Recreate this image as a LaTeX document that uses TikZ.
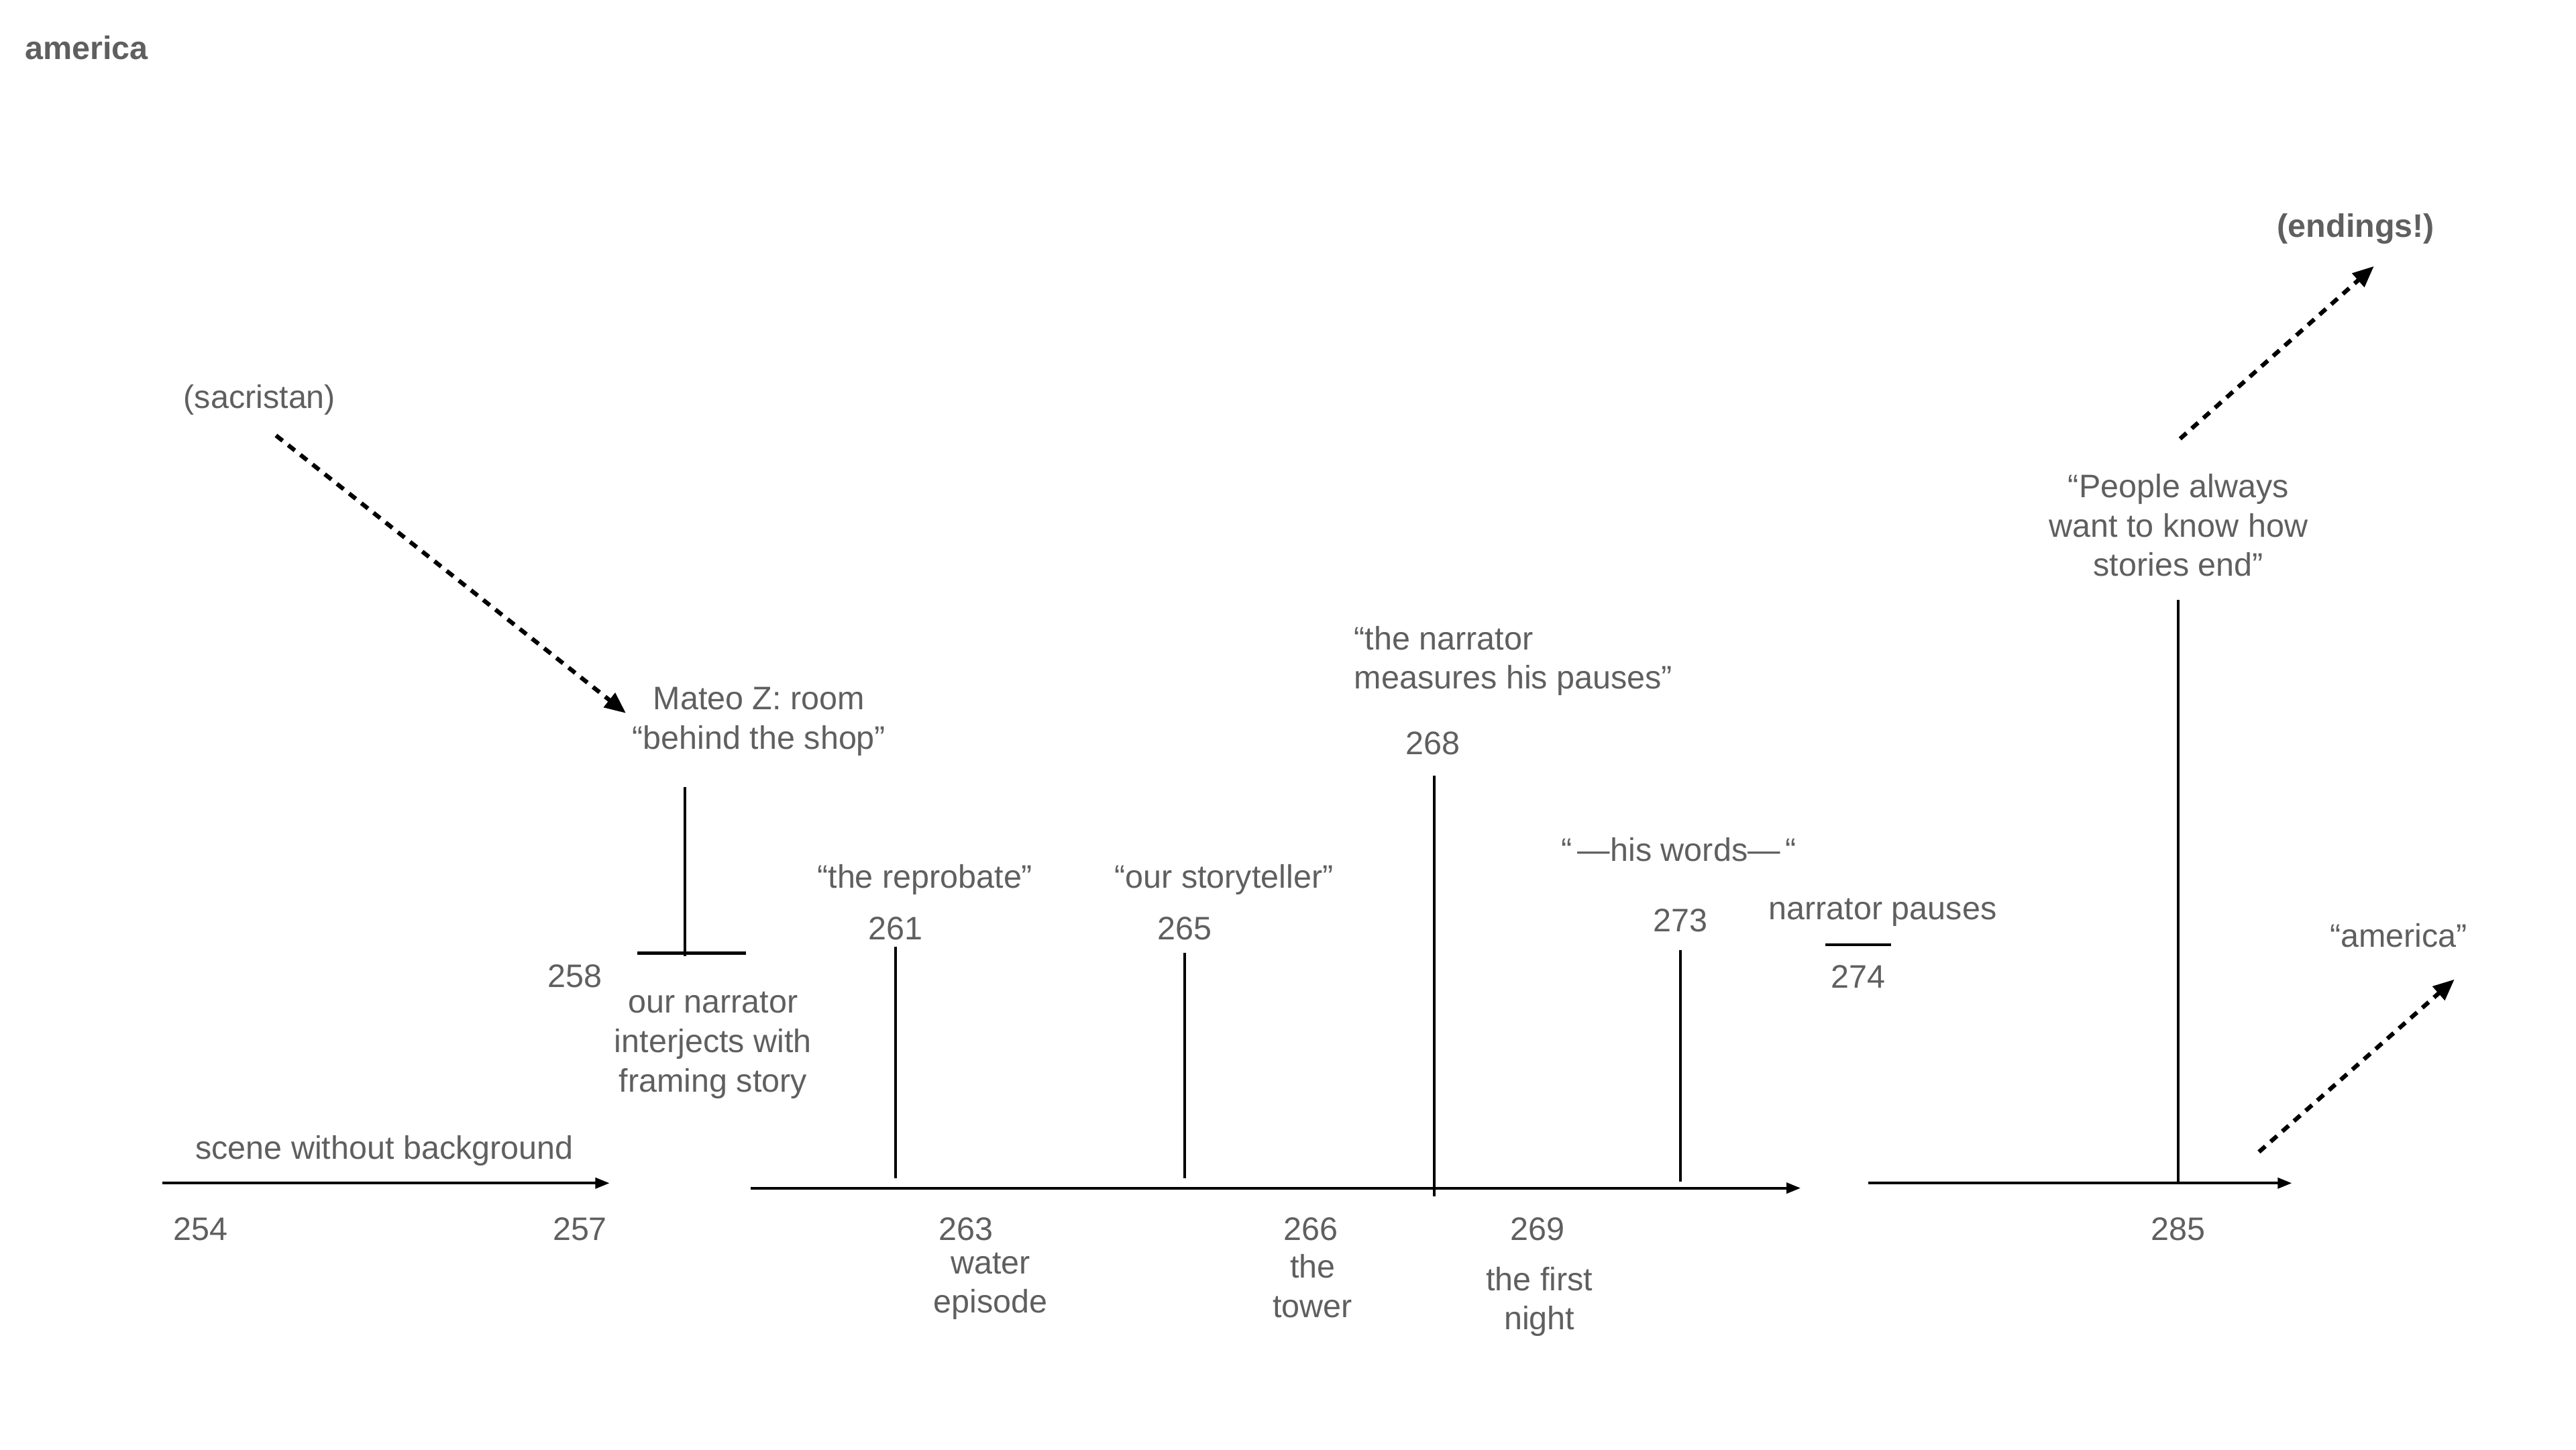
\documentclass[tikz,border=0pt]{standalone}
\usepackage{fontspec}
\setmainfont{Liberation Sans}
\usetikzlibrary{arrows.meta}
\definecolor{labelgray}{HTML}{5F5F5F}
\tikzset{
  lbl/.style={inner sep=0pt, text=labelgray, font=\fontsize{13.8}{16.7}\selectfont, align=center, yshift=-1.5pt},
  ttl/.style={lbl, font=\fontsize{13.8}{16.7}\selectfont\bfseries},
  axis/.style={line width=1.1pt, -{Triangle[length=6pt,width=4.5pt]}},
  tick/.style={line width=1.1pt},
  hint/.style={line width=1.8pt, dash pattern=on 3.6pt off 3pt, -{Triangle[length=9pt,width=7.5pt]}},
}
\begin{document}
\begin{tikzpicture}[x=0.02449cm, y=-0.02449cm]
\useasboundingbox (0,0) rectangle (1568,882);

% heading
\node[ttl, anchor=west] (title) at (15,27) {america};

% opening scene
\node[lbl] (sacristan) at (158,241) {(sacristan)};
\coordinate (sacfrom) at (168,265);
\coordinate (sacto) at (381,434);
\draw[hint] (sacfrom) -- (sacto);

\node[lbl] (scene) at (234,698) {scene without background};
\coordinate (s0) at (99,720);
\coordinate (s1) at (371,720);
\draw[axis] (s0) -- (s1);
\node[lbl] (p254) at (122,746) {254};
\node[lbl] (p257) at (353,746) {257};

% framing interjection
\node[lbl] (mateo) at (462,437) {Mateo Z: room\\“behind the shop”};
\coordinate (f0) at (417,479);
\coordinate (f1) at (417,582);
\coordinate (fl) at (388,580);
\coordinate (fr) at (454,580);
\draw[tick] (f0) -- (f1);
\draw[line width=1.4pt] (fl) -- (fr);
\node[lbl] (p258) at (350,592) {258};
\node[lbl] (frame) at (434,634) {our narrator\\interjects with\\framing story};

% main story line
\coordinate (m0) at (457,723);
\coordinate (m1) at (1096,723);
\draw[axis] (m0) -- (m1);

\node[lbl] (reprobate) at (563,533) {“the reprobate”};
\node[lbl] (p261) at (545,563) {261};
\coordinate (a0) at (545,576);
\coordinate (a1) at (545,717);
\draw[tick] (a0) -- (a1);

\node[lbl] (storyteller) at (745,533) {“our storyteller”};
\node[lbl] (p265) at (721,563) {265};
\coordinate (b0) at (721,580);
\coordinate (b1) at (721,717);
\draw[tick] (b0) -- (b1);

\node[lbl, anchor=west, align=left] (measures) at (824,400) {“the narrator\\measures his pauses”};
\node[lbl] (p268) at (872,450) {268};
\coordinate (c0) at (873,472);
\coordinate (c1) at (873,728);
\draw[tick] (c0) -- (c1);

\node[lbl] (words) at (1022,515) {“\,—his words—\,“};
\node[lbl] (p273) at (1023,558) {273};
\coordinate (d0) at (1023,578);
\coordinate (d1) at (1023,719);
\draw[tick] (d0) -- (d1);

\node[lbl] (p263) at (588,746) {263};
\node[lbl] (water) at (603,780.5) {water\\episode};
\node[lbl] (p266) at (798,746) {266};
\node[lbl] (tower) at (799,780.5) {the\\tower};
\node[lbl] (p269) at (936,746) {269};
\node[lbl] (night) at (937,790) {the first\\night};

% pause
\node[lbl] (pauses) at (1146,553) {narrator pauses};
\coordinate (e0) at (1111,575);
\coordinate (e1) at (1151,575);
\draw[tick] (e0) -- (e1);
\node[lbl] (p274) at (1131,592) {274};

% closing line
\coordinate (r0) at (1137,720);
\coordinate (r1) at (1395,720);
\draw[axis] (r0) -- (r1);
\node[lbl] (people) at (1326,317.5) {“People always\\want to know how\\stories end”};
\coordinate (g0) at (1326,365);
\coordinate (g1) at (1326,720);
\draw[tick] (g0) -- (g1);
\node[lbl] (p285) at (1326,746) {285};

\node[ttl] (endings) at (1434,137) {(endings!)};
\coordinate (h0) at (1327,267);
\coordinate (h1) at (1445,162);
\draw[hint] (h0) -- (h1);

\node[lbl] (amer) at (1460,567) {“america”};
\coordinate (k0) at (1375,701);
\coordinate (k1) at (1494,596);
\draw[hint] (k0) -- (k1);
\end{tikzpicture}
\end{document}
